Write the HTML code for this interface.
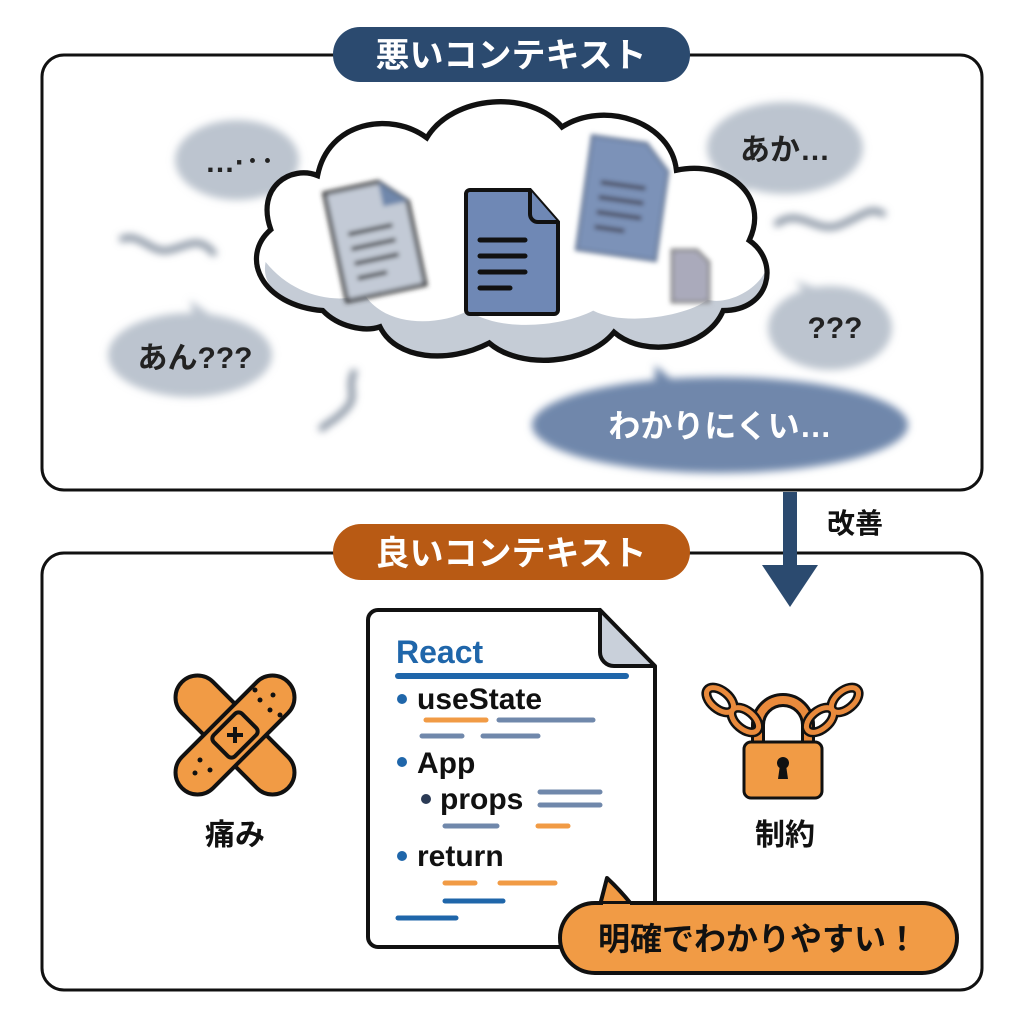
<!DOCTYPE html>
<html><head><meta charset="utf-8"><style>
html,body{margin:0;padding:0;background:#fff}
svg{display:block}
text{font-family:"Liberation Sans","Noto Sans CJK JP",sans-serif;font-weight:bold}
</style></head><body>
<svg width="1024" height="1024" viewBox="0 0 1024 1024" xmlns="http://www.w3.org/2000/svg">
<defs>
<filter id="b4" x="-30%" y="-30%" width="160%" height="160%"><feGaussianBlur stdDeviation="4"/></filter>
<filter id="b2" x="-30%" y="-30%" width="160%" height="160%"><feGaussianBlur stdDeviation="2.5"/></filter>
</defs>
<!-- top panel -->
<rect x="42" y="55" width="940" height="435" rx="22" fill="#fff" stroke="#111" stroke-width="3"/>
<rect x="333" y="27" width="357" height="55" rx="27" fill="#2b4a6f"/>
<text x="511" y="67" font-size="34" fill="#fff" text-anchor="middle">悪いコンテキスト</text>

<!-- blurry bubbles -->
<g filter="url(#b4)">
<ellipse cx="237" cy="160" rx="62" ry="40" fill="#bcc4cf"/>
<path d="M255 185 L285 208 L275 180Z" fill="#bcc4cf"/>
<ellipse cx="785" cy="148" rx="78" ry="46" fill="#bcc4cf"/>
<path d="M750 175 L735 195 L770 180Z" fill="#bcc4cf"/>
<ellipse cx="190" cy="355" rx="82" ry="42" fill="#bcc4cf"/>
<path d="M195 325 L190 300 L225 325Z" fill="#bcc4cf"/>
<ellipse cx="830" cy="328" rx="62" ry="42" fill="#bcc4cf"/>
<path d="M810 300 L795 280 L835 295Z" fill="#bcc4cf"/>
<ellipse cx="720" cy="425" rx="188" ry="48" fill="#6f87ab"/>
<path d="M655 395 L655 365 L690 395Z" fill="#6f87ab"/>
<path d="M120 240 C140 230 150 255 170 250 S200 235 215 255" stroke="#7a8798" stroke-width="6" fill="none"/>
<path d="M775 225 C800 205 815 235 840 225 S870 205 885 215" stroke="#7a8798" stroke-width="6" fill="none"/>
<path d="M355 370 C345 390 360 395 345 410 S330 420 320 430" stroke="#7a8798" stroke-width="6" fill="none"/>
</g>
<text x="240" y="172" font-size="30" fill="#222" text-anchor="middle">…·‥</text>
<text x="785" y="160" font-size="30" fill="#222" text-anchor="middle">あか…</text>
<text x="195" y="368" font-size="30" fill="#222" text-anchor="middle">あん???</text>
<text x="835" y="338" font-size="30" fill="#222" text-anchor="middle">???</text>
<text x="720" y="437" font-size="32" fill="#fff" text-anchor="middle">わかりにくい…</text>

<!-- cloud -->
<g transform="translate(510 235) scale(1.04 1.08) translate(-510 -235)">
<path d="M330 305 C270 300 250 255 280 230 C265 190 300 170 325 180 C335 130 395 120 430 145 C455 105 530 100 560 135 C600 110 665 130 670 175 C720 165 760 200 740 240 C770 260 760 305 715 305 C700 340 640 350 610 325 C585 355 520 360 490 335 C450 355 400 350 385 320 C370 325 345 320 330 305Z" fill="#fff"/>
<path d="M275 260 C300 290 340 300 370 290 C390 320 440 320 470 305 C500 325 560 320 590 305 C620 320 680 310 700 295 C720 300 750 285 757 265 C760 300 730 310 715 305 C700 340 640 350 610 325 C585 355 520 360 490 335 C450 355 400 350 385 320 C370 325 345 320 330 305 C295 300 270 285 275 260Z" fill="#c5ccd6"/>
<path d="M330 305 C270 300 250 255 280 230 C265 190 300 170 325 180 C335 130 395 120 430 145 C455 105 530 100 560 135 C600 110 665 130 670 175 C720 165 760 200 740 240 C770 260 760 305 715 305 C700 340 640 350 610 325 C585 355 520 360 490 335 C450 355 400 350 385 320 C370 325 345 320 330 305Z" fill="none" stroke="#111" stroke-width="5"/>
</g>
<!-- blurry docs -->
<g filter="url(#b2)">
<g transform="rotate(-12 370 240)"><path d="M335 185 h55 l25 25 v85 h-80z" fill="#c3cad6" stroke="#333" stroke-width="4"/>
<path d="M390 185 v25 h25z" fill="#6f87ab"/><path d="M350 230h45M350 245h45M350 260h45M350 275h30" stroke="#333" stroke-width="4"/></g>
<g transform="rotate(8 620 190)"><path d="M585 140 h55 l25 25 v90 h-80z" fill="#7b92b8" stroke="#6a7c99" stroke-width="3"/>
<path d="M600 185h45M600 200h45M600 215h45M600 230h30" stroke="#445" stroke-width="4"/></g>
<path d="M672 250 h25 l12 12 v40 h-37z" fill="#aab" stroke="#888" stroke-width="3"/>
</g>
<!-- main doc -->
<path d="M470 190 h60 l28 32 v88 a4 4 0 0 1-4 4 h-84 a4 4 0 0 1-4-4 v-116 a4 4 0 0 1 4-4z" fill="#6f88b5" stroke="#111" stroke-width="4"/>
<path d="M530 190 v24 a8 8 0 0 0 8 8 h20" fill="#6f88b5" stroke="#111" stroke-width="4"/>
<path d="M480 240h45M480 256h45M480 272h45M480 288h30" stroke="#111" stroke-width="5" stroke-linecap="round"/>

<!-- bottom panel -->
<rect x="42" y="553" width="940" height="437" rx="22" fill="#fff" stroke="#111" stroke-width="3"/>
<rect x="333" y="524" width="357" height="56" rx="28" fill="#b85a14"/>
<text x="511" y="565" font-size="34" fill="#fff" text-anchor="middle">良いコンテキスト</text>

<!-- arrow -->
<rect x="783" y="492" width="14" height="76" fill="#2b4a6f"/>
<path d="M762 565 L818 565 L790 607Z" fill="#2b4a6f"/>
<text x="855" y="533" font-size="28" fill="#111" text-anchor="middle">改善</text>

<!-- bandage -->
<g transform="translate(235 735)" stroke="#111" stroke-width="4">
<rect x="-75" y="-22" width="150" height="44" rx="22" fill="#f19b45" transform="rotate(45)"/>
<rect x="-75" y="-22" width="150" height="44" rx="22" fill="#f19b45" transform="rotate(-45)"/>
<rect x="-20" y="-15" width="40" height="30" rx="5" fill="#f19b45" transform="rotate(-45)"/>
<path d="M-8 0h16M0 -8v16" stroke-width="4"/>
<g fill="#111" stroke="none"><circle cx="-35" cy="25" r="2.5"/><circle cx="-25" cy="35" r="2.5"/><circle cx="-40" cy="38" r="2.5"/><circle cx="25" cy="-35" r="2.5"/><circle cx="35" cy="-25" r="2.5"/><circle cx="38" cy="-40" r="2.5"/><circle cx="20" cy="-45" r="2.5"/><circle cx="45" cy="-20" r="2.5"/></g>
</g>
<text x="235" y="845" font-size="30" fill="#111" text-anchor="middle">痛み</text>

<!-- lock -->
<g stroke="#111" stroke-width="3" fill="none">
<path d="M758 745 v-20 a25 25 0 0 1 50 0 v20" stroke="#111" stroke-width="14"/>
<path d="M758 745 v-20 a25 25 0 0 1 50 0 v20" stroke="#e98a3c" stroke-width="8"/>
<g stroke="#111" stroke-width="10"><ellipse cx="720" cy="700" rx="16" ry="9" transform="rotate(40 720 700)"/><ellipse cx="745" cy="720" rx="16" ry="9" transform="rotate(40 745 720)"/><ellipse cx="845" cy="700" rx="16" ry="9" transform="rotate(-40 845 700)"/><ellipse cx="820" cy="720" rx="16" ry="9" transform="rotate(-40 820 720)"/></g>
<g stroke="#e98a3c" stroke-width="5"><ellipse cx="720" cy="700" rx="16" ry="9" transform="rotate(40 720 700)"/><ellipse cx="745" cy="720" rx="16" ry="9" transform="rotate(40 745 720)"/><ellipse cx="845" cy="700" rx="16" ry="9" transform="rotate(-40 845 700)"/><ellipse cx="820" cy="720" rx="16" ry="9" transform="rotate(-40 820 720)"/></g>
<rect x="744" y="742" width="78" height="56" rx="7" fill="#f19b45"/>
</g>
<circle cx="783" cy="763" r="6" fill="#111"/><path d="M780 765 h6 l2 14 h-10z" fill="#111"/>
<text x="785" y="845" font-size="30" fill="#111" text-anchor="middle">制約</text>

<!-- code doc -->
<path d="M378 610 h222 l55 57 v270 a10 10 0 0 1-10 10 h-267 a10 10 0 0 1-10-10 v-317 a10 10 0 0 1 10-10z" fill="#fff" stroke="#111" stroke-width="4"/>
<path d="M600 610 v42 a14 14 0 0 0 14 14 h41z" fill="#c9d0da" stroke="#111" stroke-width="4" stroke-linejoin="round"/>
<text x="396" y="663" font-size="32" fill="#1f66aa">React</text>
<path d="M398 676 h228" stroke="#1f66aa" stroke-width="6" stroke-linecap="round"/>
<g font-size="30" fill="#111">
<text x="417" y="709">useState</text>
<text x="417" y="773">App</text>
<text x="440" y="809">props</text>
<text x="417" y="866">return</text>
</g>
<g fill="#1f66aa"><circle cx="402" cy="699" r="5"/><circle cx="402" cy="762" r="5"/><circle cx="402" cy="856" r="5"/></g>
<circle cx="426" cy="799" r="5" fill="#2b3a55"/>
<g stroke-width="5" stroke-linecap="round">
<path d="M426 720h60" stroke="#f19b45"/>
<path d="M499 720h94" stroke="#7088ab"/>
<path d="M422 736h40M483 736h55" stroke="#7088ab"/>
<path d="M540 792h60M540 805h60M445 826h52" stroke="#7088ab"/>
<path d="M538 826h30" stroke="#f19b45"/>
<path d="M445 883h30M500 883h55" stroke="#f19b45"/>
<path d="M445 901h58" stroke="#1f66aa"/>
<path d="M398 918h58" stroke="#1f66aa"/>
</g>

<!-- speech -->
<path d="M600 905 L607 878 Q620 890 632 905Z" fill="#f19b45" stroke="#111" stroke-width="4" stroke-linejoin="round"/>
<rect x="560" y="903" width="397" height="70" rx="35" fill="#f19b45" stroke="#111" stroke-width="4"/>
<path d="M603 907 L630 907" stroke="#f19b45" stroke-width="6"/>
<text x="758" y="950" font-size="32" fill="#111" text-anchor="middle">明確でわかりやすい！</text>
</svg>
</body></html>
